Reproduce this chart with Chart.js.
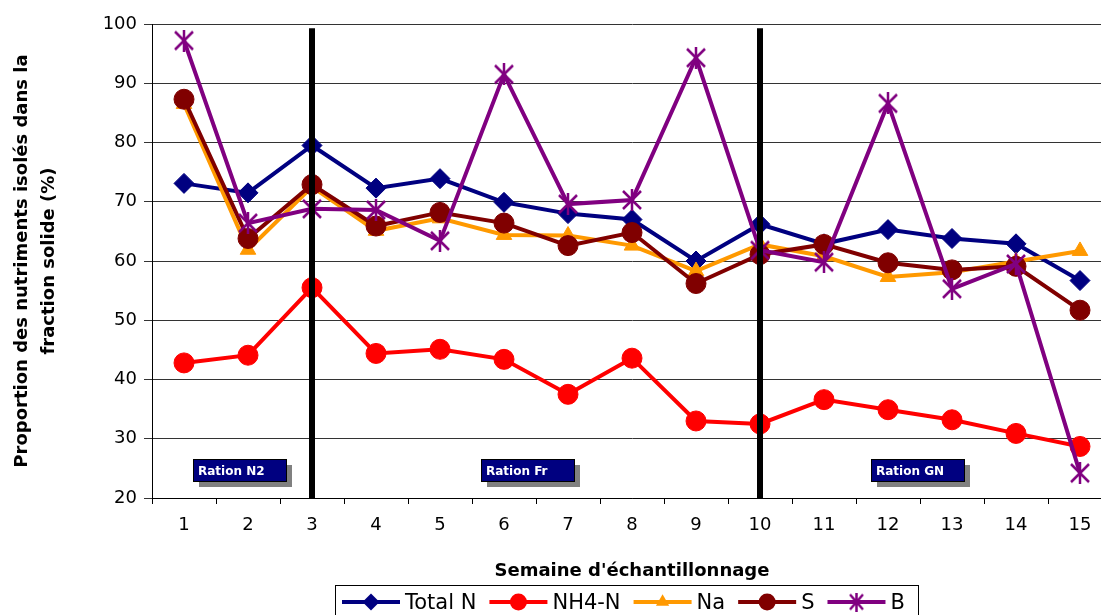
<!DOCTYPE html>
<html>
<head>
<meta charset="utf-8">
<script src="https://cdn.jsdelivr.net/npm/chart.js"></script>
<style>
  html, body { margin: 0; padding: 0; overflow: hidden; background: #fff; }
  #graficoNutriments { display: block; }
</style>
</head>
<body>
<canvas id="graficoNutriments" width="1115" height="615"></canvas>
<script>
// Données
const semaines = ["1", "2", "3", "4", "5", "6", "7", "8", "9", "10", "11", "12", "13", "14", "15"];
const totalN = [73.1, 71.5, 79.5, 72.3, 73.9, 69.9, 68.0, 67.0, 60.0, 66.2, 62.9, 65.3, 63.8, 62.9, 56.7];
const nh4N   = [42.8, 44.1, 55.5, 44.4, 45.1, 43.4, 37.5, 43.6, 33.0, 32.5, 36.6, 34.9, 33.2, 30.9, 28.7];
const na     = [86.5, 61.9, 72.5, 65.1, 67.2, 64.4, 64.3, 62.6, 58.3, 62.8, 60.8, 57.3, 58.1, 59.9, 61.7];
const soufre = [87.3, 63.8, 72.9, 65.9, 68.2, 66.4, 62.6, 64.8, 56.2, 61.1, 62.8, 59.7, 58.5, 59.1, 51.7];
const bore   = [97.2, 66.4, 68.8, 68.6, 63.4, 91.5, 69.6, 70.3, 94.3, 61.8, 59.8, 86.6, 55.3, 59.5, 24.2];
const yTicks = [20, 30, 40, 50, 60, 70, 80, 90, 100];
const semainesChangement = ["3", "10"];
const rations = ["Ration N2", "Ration Fr", "Ration GN"];

Chart.defaults.font.family = '"DejaVu Sans", sans-serif';
Chart.defaults.color = "#000";

function etoile(color, w, h, lw) {
  const c = document.createElement("canvas");
  c.width = w;
  c.height = h;
  const g = c.getContext("2d");
  g.strokeStyle = color;
  g.lineWidth = lw;
  g.beginPath();
  g.moveTo(1, 2); g.lineTo(w - 1, h - 2);
  g.moveTo(w - 1, 2); g.lineTo(1, h - 2);
  g.moveTo(w / 2, 0); g.lineTo(w / 2, h);
  g.stroke();
  return c;
}

const etoileGraphe = etoile("#800080", 20, 22, 2.5);
const etoileLegende = etoile("#800080", 15, 19, 2.5);

function serie(label, data, color, style, radius, order) {
  return {
    label: label,
    data: data,
    borderColor: color,
    backgroundColor: color,
    borderWidth: 4,
    pointStyle: style,
    pointRadius: radius,
    pointBorderWidth: 1,
    pointBorderColor: color,
    pointBackgroundColor: color,
    tension: 0,
    order: order,
    clip: false
  };
}

function marqueur(ctx, style, x, y, r, color) {
  if (style instanceof HTMLCanvasElement) {
    ctx.drawImage(style, x - style.width / 2, y - style.height / 2);
    return;
  }
  ctx.fillStyle = color;
  ctx.beginPath();
  if (style === "rectRot") {
    ctx.moveTo(x, y - r); ctx.lineTo(x + r, y); ctx.lineTo(x, y + r); ctx.lineTo(x - r, y);
    ctx.closePath();
  } else if (style === "triangle") {
    ctx.moveTo(x, y - r);
    ctx.lineTo(x + r * Math.cos(Math.PI / 6), y + r / 2);
    ctx.lineTo(x - r * Math.cos(Math.PI / 6), y + r / 2);
    ctx.closePath();
  } else {
    ctx.arc(x, y, r, 0, Math.PI * 2);
  }
  ctx.fill();
}

/*******************************************************************************/
// Lignes verticales, étiquettes de ration et légende
const annotations = {
  id: "annotations",
  afterDatasetsDraw(chart) {
    const { ctx, scales: { x, y } } = chart;
    ctx.save();
    ctx.strokeStyle = "#000";
    ctx.lineWidth = 6;
    semainesChangement.forEach((s) => {
      const px = x.getPixelForValue(semaines.indexOf(s));
      ctx.beginPath();
      ctx.moveTo(px, y.getPixelForValue(99.3));
      ctx.lineTo(px, y.bottom);
      ctx.stroke();
    });

    const gauches = [0.14, 4.64, 10.73];
    rations.forEach((nom, i) => {
      const left = Math.round(x.getPixelForValue(gauches[i]));
      const top = Math.round(y.getPixelForValue(26.6));
      ctx.fillStyle = "#808080";
      ctx.fillRect(left + 6, top + 6, 93, 22);
      ctx.fillStyle = "#000080";
      ctx.fillRect(left, top, 93, 22);
      ctx.strokeStyle = "#000";
      ctx.lineWidth = 1;
      ctx.strokeRect(left + 0.5, top + 0.5, 93, 22);
      ctx.fillStyle = "#fff";
      ctx.font = 'bold 12px "DejaVu Sans"';
      ctx.textBaseline = "alphabetic";
      ctx.textAlign = "left";
      ctx.fillText(nom, left + 5, top + 16);
    });
    ctx.restore();
  },
  afterDraw(chart) {
    const ctx = chart.ctx;
    ctx.save();
    ctx.strokeStyle = "#000";
    ctx.lineWidth = 1;
    ctx.strokeRect(335.5, 585.5, 583, 60);
    ctx.font = '21px "DejaVu Sans"';
    ctx.textBaseline = "alphabetic";
    ctx.textAlign = "left";
    let px = 342;
    const ly = 602;
    chart.data.datasets.forEach((ds) => {
      ctx.strokeStyle = ds.borderColor;
      ctx.lineWidth = 4;
      ctx.beginPath();
      ctx.moveTo(px, ly);
      ctx.lineTo(px + 58, ly);
      ctx.stroke();
      const style = ds.pointStyle instanceof HTMLCanvasElement ? etoileLegende : ds.pointStyle;
      marqueur(ctx, style, px + 29, ly, ds.pointRadius * 0.85, ds.borderColor);
      ctx.fillStyle = "#000";
      ctx.fillText(ds.label, px + 63, 609);
      px += 63 + ctx.measureText(ds.label).width + 13;
    });
    ctx.restore();
  }
};

/*******************************************************************************/
// Graphique
const ctx = document.getElementById("graficoNutriments").getContext("2d");
new Chart(ctx, {
  type: "line",
  data: {
    labels: semaines,
    datasets: [
      serie("Total N", totalN, "#000080", "rectRot", 10, 5),
      serie("NH4-N", nh4N, "#FF0000", "circle", 10, 4),
      serie("Na", na, "#FF9900", "triangle", 9, 3),
      serie("S", soufre, "#800000", "circle", 10, 2),
      serie("B", bore, "#800080", etoileGraphe, 11, 1)
    ]
  },
  options: {
    responsive: false,
    animation: false,
    events: [],
    layout: { autoPadding: false, padding: { top: 24, right: 3, bottom: 0, left: 0 } },
    plugins: {
      legend: { display: false },
      tooltip: { enabled: false }
    },
    scales: {
      x: {
        offset: true,
        grid: { offset: true, drawOnChartArea: false, tickLength: 6, color: "#000" },
        border: { color: "#000", width: 1 },
        ticks: { font: { size: 18 }, padding: 11, maxRotation: 0, autoSkip: false },
        title: {
          display: true,
          text: "Semaine d'échantillonnage",
          font: { size: 18, weight: "bold" },
          padding: { top: 0, bottom: 33 }
        },
        afterFit: (s) => { s.height = 117; }
      },
      y: {
        min: 20,
        max: 100,
        afterBuildTicks: (s) => { s.ticks = yTicks.map((v) => ({ value: v })); },
        grid: { color: "#333", lineWidth: 1, tickLength: 8 },
        border: { color: "#000", width: 1 },
        ticks: { font: { size: 18 }, padding: 7 },
        title: {
          display: true,
          text: ["Proportion des nutriments isolés dans la", "fraction solide (%)"],
          font: { size: 18, weight: "bold", lineHeight: 1.5 },
          padding: { top: 9, bottom: 0 }
        },
        afterFit: (s) => { s.width = 152; }
      }
    }
  },
  plugins: [annotations]
});
</script>
</body>
</html>
